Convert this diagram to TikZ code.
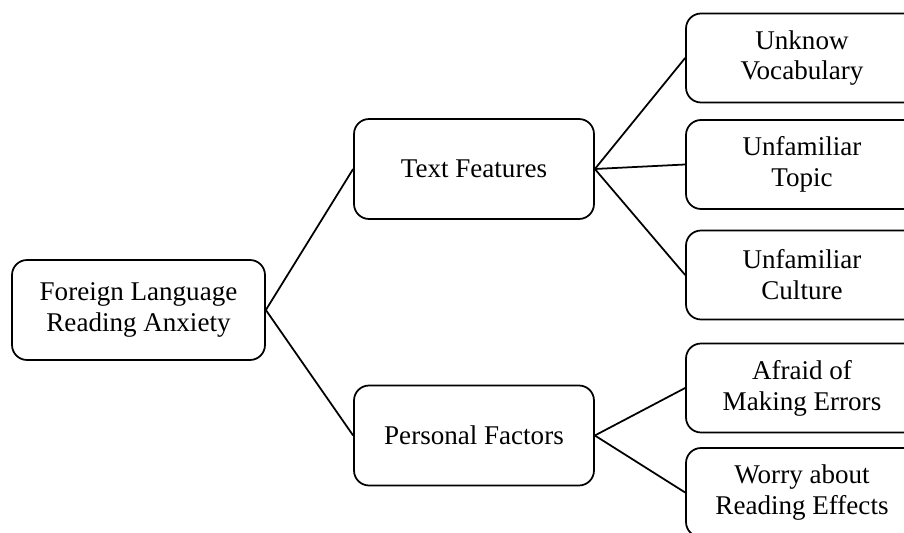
\documentclass[tikz,border=0pt]{standalone}
\usepackage{fontspec}
\setmainfont{Liberation Serif}
\usetikzlibrary{positioning}

\begin{document}
\begin{tikzpicture}[x=0.02cm, y=-0.02cm, font=\fontsize{15.4}{17.6}\selectfont,
  box/.style={draw, line width=1pt, rounded corners=0.3cm, align=center, inner sep=0pt},
  rootbox/.style={box, minimum width=5.06cm, minimum height=2cm},
  midbox/.style={box, minimum width=4.8cm, minimum height=2cm},
  leafbox/.style={box, minimum width=4.64cm, minimum height=1.78cm},
  link/.style={line width=1pt}]
\useasboundingbox (0,0) rectangle (904,533);
\clip (0,0) rectangle (904,533);

\node[rootbox] (anxiety) at (138.5,310) {Foreign Language\\Reading Anxiety};
\node[midbox] (text) at (474,169) {Text Features};
\node[midbox] (personal) at (474,435.5) {Personal Factors};

\node[leafbox] (vocab) at (802,58) {Unknow\\Vocabulary};
\node[leafbox] (topic) at (802,164.5) {Unfamiliar\\Topic};
\node[leafbox] (culture) at (802,275) {Unfamiliar\\Culture};
\node[leafbox] (errors) at (802,388) {Afraid of\\Making Errors};
\node[leafbox] (effects) at (802,492.5) {Worry about\\Reading Effects};

\draw[link] (anxiety.east) -- (text.west);
\draw[link] (anxiety.east) -- (personal.west);
\draw[link] (text.east) -- (vocab.west);
\draw[link] (text.east) -- (topic.west);
\draw[link] (text.east) -- (culture.west);
\draw[link] (personal.east) -- (errors.west);
\draw[link] (personal.east) -- (effects.west);
\end{tikzpicture}
\end{document}
